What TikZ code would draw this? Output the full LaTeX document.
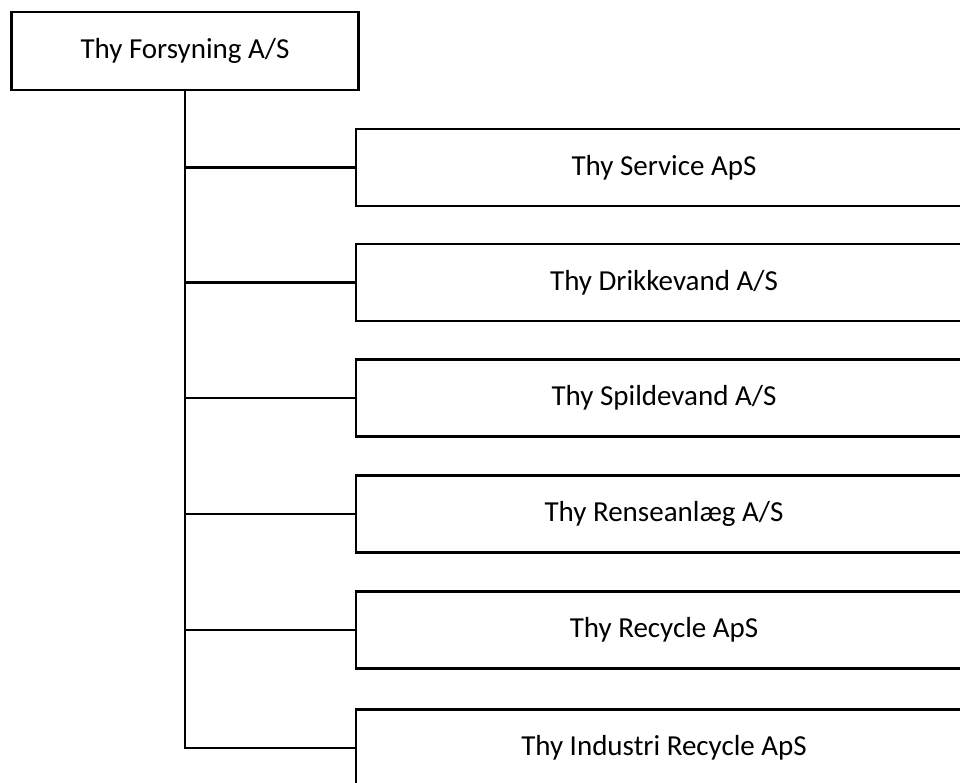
\documentclass[tikz,border=0pt]{standalone}
\usepackage{fontspec}
\setmainfont{Carlito}
\tikzset{
  orgbox/.style={draw, line width=2.5pt, fill=white, inner sep=0pt,
    font=\fontsize{29}{34}\selectfont},
  parentbox/.style={orgbox, minimum width=347pt, minimum height=78pt},
  childbox/.style={orgbox, minimum width=616pt, minimum height=77pt},
  link/.style={line width=2.5pt}
}
\begin{document}
\begin{tikzpicture}[x=1pt, y=-1pt]
    \useasboundingbox (0,0) rectangle (960,783);
    \clip (0,0) rectangle (960,783);

    \node[parentbox] (P) at (185, 51) { Thy Forsyning A/S };
    \node[childbox] (C1) at (664, 167.5) { Thy Service ApS };
    \node[childbox] (C2) at (664, 282.5) { Thy Drikkevand A/S };
    \node[childbox] (C3) at (664, 398) { Thy Spildevand A/S };
    \node[childbox] (C4) at (664, 514) { Thy Renseanlæg A/S };
    \node[childbox] (C5) at (664, 630) { Thy Recycle ApS };
    \node[childbox] (C6) at (664, 748) { Thy Industri Recycle ApS };

    \draw[link] (P.south) -- (P.south |- C6.west) -- (C6.west);
    \draw[link] (P.south |- C1.west) -- (C1.west);
    \draw[link] (P.south |- C2.west) -- (C2.west);
    \draw[link] (P.south |- C3.west) -- (C3.west);
    \draw[link] (P.south |- C4.west) -- (C4.west);
    \draw[link] (P.south |- C5.west) -- (C5.west);
\end{tikzpicture}
\end{document}
